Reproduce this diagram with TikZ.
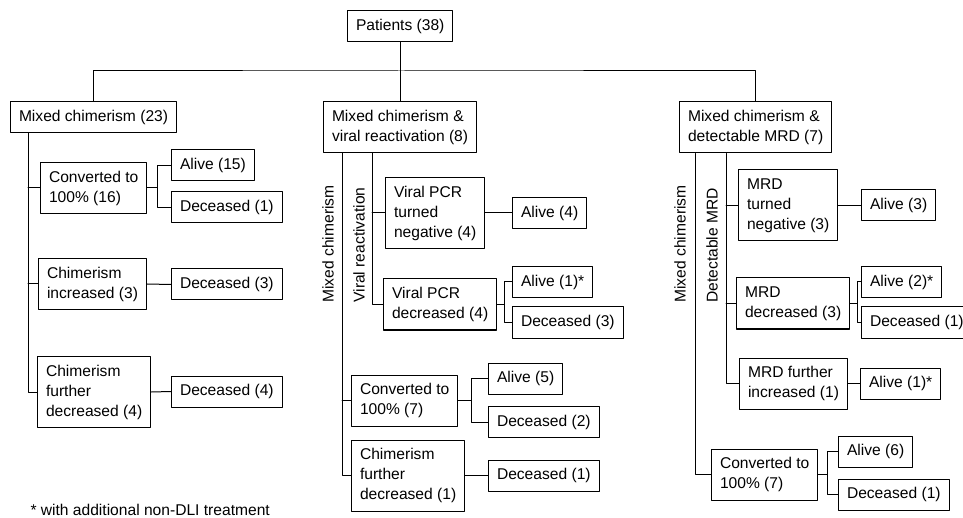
\documentclass[tikz,border=0pt]{standalone}
\usepackage{fontspec}
\setmainfont{Liberation Sans}
\usepackage{tikz}
\usetikzlibrary{calc}

\begin{document}
\begin{tikzpicture}[x=1pt, y=-1pt, line cap=round, line join=round, line width=1pt,
    box/.style={draw, anchor=west, align=left, inner xsep=8.5pt, inner ysep=0pt,
        font=\fontsize{15.6}{20}\selectfont},
    one/.style={minimum height=31pt},
    two/.style={minimum height=51pt},
    three/.style={minimum height=71pt},
    side/.style={rotate=90, anchor=west, inner sep=0pt, font=\fontsize{15.6}{20}\selectfont}]
    % page
    \useasboundingbox (0,0) rectangle (963,518);
    \clip (0,0) rectangle (963,518);

    % root
    \node[box, one] (pat) at (347,26) {Patients (38)};
    \coordinate (bus) at (401,71);

    % mixed chimerism only
    \node[box, one] (mc) at (10,117) {Mixed chimerism (23)};
    \node[box, two] (c16) at (40,188) {Converted to\\100\% (16)};
    \node[box, one] (a15) at (171,165.5) {Alive (15)};
    \node[box, one] (d1a) at (171,207.5) {Deceased (1)};
    \node[box, two] (ci3) at (38,284) {Chimerism\\increased (3)};
    \node[box, one] (d3a) at (171,284.5) {Deceased (3)};
    \node[box, three] (cf4) at (37,392) {Chimerism\\further\\decreased (4)};
    \node[box, one] (d4) at (171,391.5) {Deceased (4)};

    % mixed chimerism & viral reactivation
    \node[box, two] (mvr) at (323,127) {Mixed chimerism \&\\viral reactivation (8)};
    \node[box, three] (vpn) at (385,213) {Viral PCR\\turned\\negative (4)};
    \node[box, one] (a4) at (512,213) {Alive (4)};
    \node[box, two] (vpd) at (383,304.5) {Viral PCR\\decreased (4)};
    \node[box, one] (a1s) at (512,282) {Alive (1)*};
    \node[box, one] (d3b) at (512,322.5) {Deceased (3)};
    \node[box, two] (c7a) at (351,400.5) {Converted to\\100\% (7)};
    \node[box, one] (a5) at (488,378.5) {Alive (5)};
    \node[box, one] (d2) at (488,422) {Deceased (2)};
    \node[box, three] (cf1) at (351,475.5) {Chimerism\\further\\decreased (1)};
    \node[box, one] (d1b) at (488,475.5) {Deceased (1)};
    \node[side] (mcl2) at (328,303) {Mixed chimerism};
    \node[side] (vrl) at (359,303) {Viral reactivation};

    % mixed chimerism & MRD
    \node[box, two] (mrd) at (679,127.5) {Mixed chimerism \&\\detectable MRD (7)};
    \node[box, three] (mtn) at (738,205.5) {MRD\\turned\\negative (3)};
    \node[box, one] (a3) at (861,205.5) {Alive (3)};
    \node[box, two] (mdc) at (736,303.5) {MRD\\decreased (3)};
    \node[box, one] (a2s) at (861,282) {Alive (2)*};
    \node[box, one] (d1c) at (861,322.5) {Deceased (1)};
    \node[box, two] (mfi) at (739,383.5) {MRD further\\increased (1)};
    \node[box, one] (a1t) at (860,383.5) {Alive (1)*};
    \node[box, two] (c7b) at (711,474.5) {Converted to\\100\% (7)};
    \node[box, one] (a6) at (838,451.5) {Alive (6)};
    \node[box, one] (d1d) at (838,494.5) {Deceased (1)};
    \node[side] (mcl3) at (680,303) {Mixed chimerism};
    \node[side] (dml) at (712,303) {Detectable MRD};

    % footnote
    \node[anchor=west, inner sep=0pt, font=\fontsize{15.6}{20}\selectfont] (note) at (30,510)
        {* with additional non-DLI treatment};

    % top level
    \draw (pat.south) -- (pat.south |- mvr.north);
    \draw (mc.north) |- (bus) -| (mrd.north);

    % left branch
    \draw (mc.south west) ++(18,0) coordinate (v1) -- (v1 |- cf4.west) -- (cf4.west);
    \draw (v1 |- c16.west) -- (c16.west);
    \draw (v1 |- ci3.west) -- (ci3.west);
    \draw (c16.east) -- ++(10,0) coordinate (f1);
    \draw (f1) |- (a15.west);
    \draw (f1) |- (d1a.west);
    \draw (ci3.east) -- (d3a.west);
    \draw (cf4.east) -- (d4.west);

    % middle branch
    \draw (mvr.south west) ++(19,0) coordinate (v2) -- (v2 |- cf1.west) -- (cf1.west);
    \draw (v2 |- c7a.west) -- (c7a.west);
    \draw (mvr.south west) ++(49,0) coordinate (v3) -- (v3 |- vpd.west) -- (vpd.west);
    \draw (v3 |- vpn.west) -- (vpn.west);
    \draw (vpn.east) -- (a4.west);
    \draw (vpd.east) -- ++(7,0) coordinate (f2);
    \draw (f2) |- (a1s.west);
    \draw (f2) |- (d3b.west);
    \draw (c7a.east) -- ++(13,0) coordinate (f3);
    \draw (f3) |- (a5.west);
    \draw (f3) |- (d2.west);
    \draw (cf1.east) -- (d1b.west);

    % right branch
    \draw (mrd.south west) ++(16,0) coordinate (v4) -- (v4 |- c7b.west) -- (c7b.west);
    \draw (mrd.south west) ++(47,0) coordinate (v5) -- (v5 |- mfi.west) -- (mfi.west);
    \draw (v5 |- mtn.west) -- (mtn.west);
    \draw (v5 |- mdc.west) -- (mdc.west);
    \draw (mtn.east) -- (a3.west);
    \draw (mdc.east) -- ++(7,0) coordinate (f4);
    \draw (f4) |- (a2s.west);
    \draw (f4) |- (d1c.west);
    \draw (mfi.east) -- (a1t.west);
    \draw (c7b.east) -- ++(9,0) coordinate (f5);
    \draw (f5) |- (a6.west);
    \draw (f5) |- (d1d.west);
\end{tikzpicture}
\end{document}
